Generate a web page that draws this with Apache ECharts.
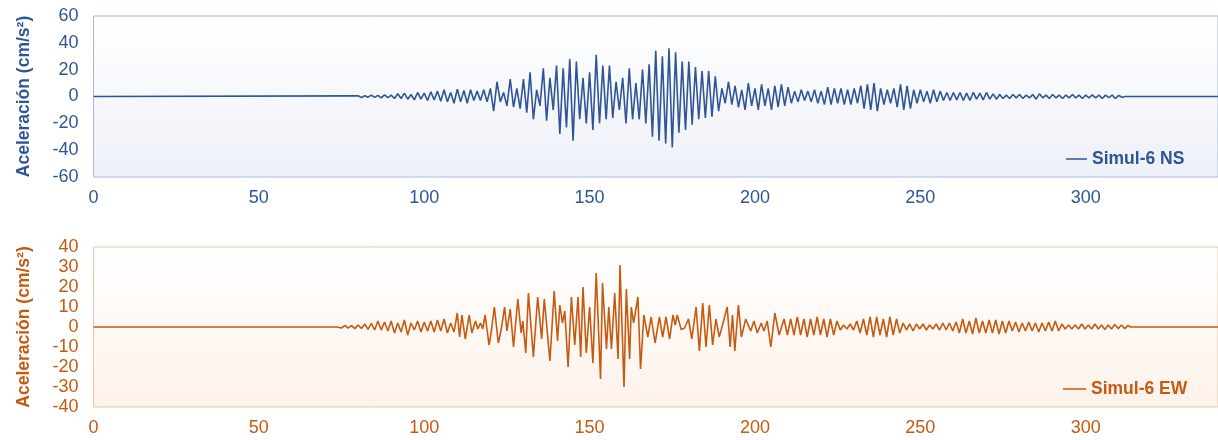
<!DOCTYPE html>
<html><head><meta charset="utf-8">
<script src="https://cdn.jsdelivr.net/npm/echarts@6/dist/echarts.min.js"></script>
<style>html,body{margin:0;padding:0;background:#fff}#c{width:1218px;height:440px}</style>
</head><body><div id="c"></div>
<script>
// ---- data ----
const recordStart = 0, recordEnd = 340;
const xTickStep = 50;
const nsName = 'Simul-6 NS';
const ewName = 'Simul-6 EW';
const yTitle = 'Aceleración (cm/s²)';
const nsYRange = [-60, 60, 20];
const ewYRange = [-40, 40, 10];

// NS record: peak values sampled every second starting at t = 80 s
const nsStart = 80, nsStep = 1;
const nsAcc = [
  0.5,-0.8,0.6,-0.5,1,-0.7,0.8,-1,1.2,-0.8,1,-1.5,
  2,-1.5,2.5,-2,1.5,-2.5,3,-2,2.5,-3,
  3.5,-2.5,4,-3.5,5,-4,3,-5,5.5,-4,4.5,-5,5,-3,
  4,-3,5,-4,6,-11,11,-4,3,-7,13,-8,6,-9,13,-12,18,-17,5,-7,21,-18,14,-10,
  23,-28,21,-23,28,-33,26,-17,14,-20,18,-25,31,-20,23,-17,23,-16,11,-10,14,-20,21,-17,
  10,-17,20,-20,24,-30,34,-33,30,-35,36,-38,33,-27,26,-25,26,-21,22,-17,19,-16,19,-15,15,-11,6,-5,
  11,-6,8,-8,5,-10,10,-7,6,-10,9,-7,6,-10,8,-8,9,-7,7,-5,
  4,-4,5,-3,4,-4,5,-5,4,-6,7,-6,6,-5,6,-6,5,-6,6,-5,
  8,-9,9,-10,10,-11,6,-6,5,-5,6,-8,9,-10,8,-9,5,-5,5,-4,
  4,-5,5,-4,4,-3,3,-3,3,-2.5,3,-3,2.5,-3,3,-2,2.5,-2.5,3,-2,
  2,-2,1.5,-1.5,1,-1.5,1.5,-1,1.5,-1.5,1,-1,1.5,-2,2,-1,1,-1.5,1.5,-1,
  1,-1.5,1,-1,1.5,-1,1,-1.5,1,-1,1.2,-1,1,-1.5,1,-0.8,1,-1.5,0.8,-0.5,0
];

// EW record: [time s, acceleration] peaks
const ewPeaks = [
  [68.5,0],[68.8,1],[69.1,0],[73.5,0],
  [74,0.6],[75,-0.5],[76,0.8],[77,-0.6],[78,0.7],[79,-0.8],[80,1],[81,-0.7],[82,1.5],[83,-1.2],
  [84,1.8],[85,-1.5],[86,3],[87,-1.5],[88,2.5],[89,-2],[90,3],[91,-3],[92,2],[93,-2.5],
  [94,3.5],[95,-4],[96,2],[97,-1.5],[98,3],[99,-2.5],[100,2.5],[101,-2],[102,3],[103,-2.5],
  [104,3.5],[105,-2],[106,4],[107,-3],[108,2],[109,-2.5],[110,7],[110.7,-5],[111.4,6],[112.4,-6],
  [113.6,6],[114.4,-3],[115.5,3],[116.2,-1],[117,2],[117.7,-1],[118.4,6],[119.6,-9],[120.3,-2],
  [121.2,10],[122.4,-8],[123.3,-1],[124.3,10],[125,-2],[126,9],[127,-10],[128.3,14],[129.3,-3],
  [129.8,3],[130.7,-13],[131.5,17],[133,-15],[134.3,15],[135.5,-6],[136.3,14],[138,-17],[139.3,18],
  [140.3,-7],[141,11],[141.8,2],[142.5,8],[143.5,-20],[144.5,15],[145.5,-9],[146.5,15],[147.3,-15],
  [148,20],[149,-13],[150,10],[151,-18],[152,27],[153.3,-26],[153.9,22],[155.1,-11],[155.8,10],
  [156.6,-11],[157.6,17],[158.6,-16],[159.2,31],[160.4,-30],[161.1,19],[162.1,-16],[162.6,10],
  [163.3,2],[164.6,15],[165.4,-21],[166.4,6],[167.6,-5],[168.6,5],[169.8,-8],[171.1,5],[172.1,-5],
  [173.1,5],[174.2,-6],[175.2,6],[175.9,1],[176.5,6],[177.7,-1.3],[178.7,-0.5],[179.9,4],[180.9,-6],
  [182.2,10],[183.2,-12],[184.2,12],[185.2,-10],[186.2,11],[187.2,-9],[188.2,4],[189.2,-5],[190.2,1],
  [191.6,10],[192.5,-10],[193.2,6],[193.9,-12],[195,11],[195.9,-5],[197.2,4],[198.7,-2],[199.7,3],
  [200.7,-3],[201.9,2],[202.7,-2],[203.7,3],[204.8,-10],[206,7],[207.3,-4],[208.8,4],
  [209.8,-4],[210.8,4],[211.8,-4],[212.8,5],[213.8,-4],[214.8,4],[215.8,-5],[216.8,4],[217.8,-4],
  [218.8,5],[219.8,-4],[220.8,4],[221.8,-5],[222.8,4],[223.8,-4],[224.8,3],[225.8,-1.5],[226.8,1],
  [227.8,-1],[228.8,1.5],[229.8,-1.5],[230.8,3],[231.8,-3],[232.8,4],[233.8,-4],[234.8,5],[235.8,-5],
  [236.8,5],[237.8,-4],[238.8,4],[239.8,-5],[240.8,5],[241.8,-4],[242.8,4],[243.8,-3],[244.8,2],
  [245.8,-1.5],[246.8,1.5],[247.8,-2],[248.8,1.5],[249.8,-1],[250.8,1.5],[251.8,-1.5],[252.8,1],
  [253.8,-1],[254.8,1.5],[255.8,-1.5],[256.8,2],[257.8,-1.5],[258.8,2],[259.8,-2],[260.8,2.5],
  [261.8,-3],[262.8,4],[263.8,-3],[264.8,3],[265.8,-3.5],[266.8,4.5],[267.8,-3],[268.8,3],[269.8,-3],
  [270.8,3.5],[271.8,-3],[272.8,3.5],[273.8,-3.5],[274.8,3],[275.8,-3],[276.8,3],[277.8,-2],
  [278.8,2.5],[279.8,-2.5],[280.8,2],[281.8,-2],[282.8,2.5],[283.8,-2],[284.8,2],[285.8,-2.5],
  [286.8,2],[287.8,-2],[288.8,2.5],[289.8,-2],[290.8,3],[291.8,-2],[292.8,1.5],[293.8,-1],[294.8,1],
  [295.8,-1],[296.8,1],[297.8,-1],[298.8,1.5],[299.8,-1],[300.8,1],[301.8,-1],[302.8,1.5],[303.8,-1],
  [304.8,1],[305.8,-1.2],[306.8,1],[307.8,-1],[308.8,1.3],[309.8,-0.8],[310.8,1],[311.8,-0.8],
  [312.8,0.8],[313.5,0]
];

// ---- chart ----
const blue = '#2F5597', orange = '#C55A11';
const font = "'Liberation Sans', Arial, Helvetica, sans-serif";

const nsData = [[recordStart, 0]].concat(nsAcc.map((v, i) => [nsStart + i * nsStep, v]), [[recordEnd, 0]]);
const ewData = [[recordStart, 0]].concat(ewPeaks, [[recordEnd, 0]]);

function grad(c) {
  return { type: 'linear', x: 0, y: 0, x2: 0, y2: 1,
    colorStops: [{ offset: 0, color: '#ffffff' }, { offset: 1, color: c }] };
}
function xAx(gi, color) {
  return {
    type: 'value', gridIndex: gi, min: recordStart, max: recordEnd, interval: xTickStep,
    axisLine: { show: false }, axisTick: { show: false }, splitLine: { show: false },
    axisLabel: { color: color, fontSize: 18, fontFamily: font, margin: 12, showMaxLabel: false }
  };
}
function yAx(gi, r, color) {
  return {
    type: 'value', gridIndex: gi, min: r[0], max: r[1], interval: r[2],
    axisLine: { show: false }, axisTick: { show: false }, splitLine: { show: false },
    axisLabel: { color: color, fontSize: 18, fontFamily: font, margin: 15 },
    name: yTitle, nameLocation: 'middle', nameRotate: 90, nameGap: 60,
    nameTextStyle: { color: color, fontSize: 17.5, fontWeight: 'bold', fontFamily: font }
  };
}

const chart = echarts.init(document.getElementById('c'), null, { renderer: 'canvas' });
chart.setOption({
  animation: false,
  backgroundColor: '#ffffff',
  grid: [
    { left: 93.5, top: 16, width: 1130.5, height: 161, show: true,
      borderColor: '#A9B8DC', borderWidth: 1, backgroundColor: grad('#EDF0F8') },
    { left: 93.5, top: 247, width: 1130.5, height: 160, show: true,
      borderColor: '#EFC5A6', borderWidth: 1, backgroundColor: grad('#FDF2EA') }
  ],
  xAxis: [xAx(0, blue), xAx(1, orange)],
  yAxis: [yAx(0, nsYRange, blue), yAx(1, ewYRange, orange)],
  legend: [
    { data: [nsName], left: 1066, top: 150, padding: 0, icon: 'rect', itemWidth: 21, itemHeight: 1.5, itemGap: 5,
      textStyle: { color: blue, fontSize: 17.5, fontWeight: 'bold', fontFamily: font } },
    { data: [ewName], left: 1063, top: 380, padding: 0, icon: 'rect', itemWidth: 23, itemHeight: 1.5, itemGap: 5,
      textStyle: { color: orange, fontSize: 17.5, fontWeight: 'bold', fontFamily: font } }
  ],
  series: [
    { name: nsName, type: 'line', xAxisIndex: 0, yAxisIndex: 0, data: nsData, symbol: 'none',
      lineStyle: { color: blue, width: 1.6 }, itemStyle: { color: blue }, z: 3 },
    { name: ewName, type: 'line', xAxisIndex: 1, yAxisIndex: 1, data: ewData, symbol: 'none',
      lineStyle: { color: orange, width: 1.6 }, itemStyle: { color: orange }, z: 3 }
  ]
});
</script></body></html>
